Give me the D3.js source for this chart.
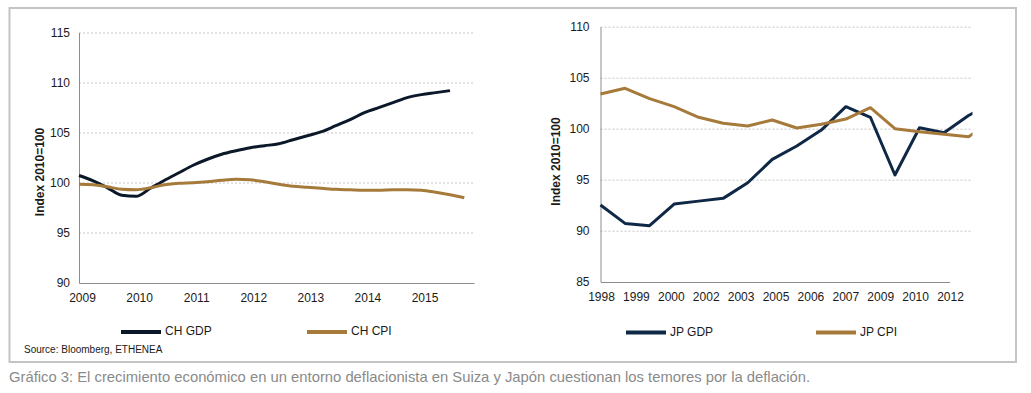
<!DOCTYPE html>
<html>
<head>
<meta charset="utf-8">
<script src="https://cdn.jsdelivr.net/npm/d3@7"></script>
<style>
  body { margin: 0; background: #fff; }
  svg { display: block; font-family: "Liberation Sans", Arial, sans-serif; }
</style>
</head>
<body>
<div id="wrapper"></div>
<script>
// Data
const chPeriods = [2009, 2009.25, 2009.5, 2009.75, 2010, 2010.25, 2010.5, 2010.75,
    2011, 2011.25, 2011.5, 2011.75, 2012, 2012.25, 2012.5, 2012.75,
    2013, 2013.25, 2013.5, 2013.75, 2014, 2014.25, 2014.5, 2014.75,
    2015, 2015.25, 2015.5, 2015.75];
const chGdp = [100.73, 100.2, 99.5, 98.75, 98.65, 99.45, 100.25, 101.0,
    101.75, 102.35, 102.85, 103.2, 103.5, 103.7, 103.9, 104.3,
    104.7, 105.1, 105.7, 106.3, 107.0, 107.5, 108.0, 108.5,
    108.8, 109.0, 109.2];
const chCpi = [99.85, 99.8, 99.6, 99.35, 99.3, 99.5, 99.8, 99.95,
    100.0, 100.1, 100.25, 100.35, 100.3, 100.1, 99.85, 99.65,
    99.55, 99.45, 99.35, 99.3, 99.25, 99.25, 99.3, 99.3,
    99.25, 99.05, 98.8, 98.5];
const chTicks = [2009, 2010, 2011, 2012, 2013, 2014, 2015];
const chYTicks = [90, 95, 100, 105, 110, 115];

const jpYears = [1998, 1999, 2000, 2001, 2002, 2003, 2004, 2005, 2006,
    2007, 2008, 2009, 2010, 2011, 2012, 2013, 2014];
const jpGdp = [92.54, 90.74, 90.51, 92.63, 92.92, 93.19, 94.72, 97.01, 98.32,
    99.88, 102.17, 101.13, 95.48, 100.11, 99.62, 101.3, 102.6];
const jpCpi = [103.41, 103.97, 102.95, 102.17, 101.13, 100.54, 100.27, 100.86, 100.08,
    100.44, 100.96, 102.07, 100.01, 99.72, 99.46, 99.23, 100.8];
const jpTicks = ["1998", "1999", "2000", "2002", "2003", "2005", "2006", "2007", "2009", "2010", "2012"];
const jpYTicks = [85, 90, 95, 100, 105, 110];

const gdpColorCH = "#0b1829";
const gdpColorJP = "#0e2846";
const cpiColor = "#a67a3b";

// Canvas
const svg = d3.select("#wrapper")
    .append("svg")
    .attr("width", 1031)
    .attr("height", 393);

// Outer frame
svg.append("rect")
    .attr("x", 9.5).attr("y", 8)
    .attr("width", 1006.5).attr("height", 354)
    .attr("fill", "none")
    .attr("stroke", "#c4c4c4")
    .attr("stroke-width", 2);

// Draw one panel
function drawPanel(cfg) {
    const g = svg.append("g")
        .attr("transform", `translate(${cfg.left},${cfg.top})`);
    const w = cfg.right - cfg.left;
    const h = cfg.bottom - cfg.top;

    const yScale = d3.scaleLinear().domain(cfg.yDomain).range([h, 0]);
    const xScale = d3.scaleLinear().domain(cfg.xDomain).range([0, w]);

    // gridlines
    g.append("g")
        .selectAll("line")
        .data(cfg.yTicks.slice(1))
        .join("line")
        .attr("x1", 0).attr("x2", w)
        .attr("y1", d => Math.round(yScale(d)) + 0.5)
        .attr("y2", d => Math.round(yScale(d)) + 0.5)
        .attr("stroke", "#c6c6c6")
        .attr("stroke-dasharray", "2,2");

    // y axis
    const yAxis = g.append("g")
        .call(d3.axisLeft(yScale).tickValues(cfg.yTicks).tickSize(0).tickPadding(cfg.yPad));
    yAxis.select(".domain").attr("stroke", "#8c8c8c").attr("stroke-width", 1);
    yAxis.selectAll("text")
        .attr("fill", "#1a1a1a")
        .style("font-size", "12px");

    // x axis
    const xAxis = g.append("g")
        .attr("transform", `translate(0,${h})`)
        .call(cfg.xAxis(w).tickSize(0).tickPadding(10));
    xAxis.select(".domain").attr("stroke", "#8c8c8c").attr("stroke-width", 1);
    xAxis.selectAll("text")
        .attr("fill", "#1a1a1a")
        .attr("dx", cfg.xLabelDx)
        .style("font-size", "12px");

    // y label
    g.append("text")
        .attr("transform", `translate(${cfg.yLabelX},${cfg.yLabelY}) rotate(-90)`)
        .attr("text-anchor", "middle")
        .attr("dominant-baseline", "middle")
        .style("font-size", "12px")
        .style("font-weight", "bold")
        .attr("fill", "#1a1a1a")
        .text("Index 2010=100");

    // lines
    const clipId = "clip-" + cfg.name;
    g.append("clipPath").attr("id", clipId)
        .append("rect")
        .attr("x", -2).attr("y", -10)
        .attr("width", w + 3).attr("height", h + 20);

    const lines = g.append("g").attr("clip-path", `url(#${clipId})`);
    cfg.series.forEach(s => {
        const line = d3.line()
            .x((d, i) => xScale(cfg.xValues[i]))
            .y(d => yScale(d))
            .curve(cfg.curve);
        lines.append("path")
            .datum(s.values)
            .attr("d", line)
            .attr("fill", "none")
            .attr("stroke", s.color)
            .attr("stroke-width", 3)
            .attr("stroke-linejoin", "round");
    });

    // legend
    cfg.series.forEach((s, i) => {
        const lx = cfg.legendX[i] - cfg.left;
        const ly = cfg.legendY - cfg.top;
        g.append("line")
            .attr("x1", lx).attr("x2", lx + 40)
            .attr("y1", ly).attr("y2", ly)
            .attr("stroke", s.color)
            .attr("stroke-width", 4);
        g.append("text")
            .attr("x", lx + 44)
            .attr("y", ly)
            .attr("dominant-baseline", "middle")
            .style("font-size", "12px")
            .attr("fill", "#1a1a1a")
            .text(s.name);
    });
}

drawPanel({
    name: "ch",
    left: 79, right: 474, top: 32.5, bottom: 283,
    yDomain: [90, 115], yTicks: chYTicks, yPad: 9,
    xDomain: [2009, 2015.92],
    xValues: chPeriods,
    xAxis: w => d3.axisBottom(d3.scaleLinear().domain([2009, 2015.92]).range([0, w]))
        .tickValues(chTicks).tickFormat(d3.format("d")),
    xLabelDx: 3,
    curve: d3.curveMonotoneX,
    yLabelX: 41 - 79, yLabelY: 172 - 32.5,
    legendX: [121, 307], legendY: 332,
    series: [
        { name: "CH GDP", values: chGdp, color: gdpColorCH },
        { name: "CH CPI", values: chCpi, color: cpiColor },
    ],
});

drawPanel({
    name: "jp",
    left: 600.5, right: 971.5, top: 26.7, bottom: 282,
    yDomain: [85, 110], yTicks: jpYTicks, yPad: 11,
    xDomain: [1998, 2013.12],
    xValues: jpYears,
    xAxis: w => d3.axisBottom(d3.scalePoint().domain(jpTicks).range([0, w * 349 / 371])),
    xLabelDx: 0.5,
    curve: d3.curveLinear,
    yLabelX: 557 - 600.5, yLabelY: 161.5 - 26.7,
    legendX: [626, 816], legendY: 332.5,
    series: [
        { name: "JP GDP", values: jpGdp, color: gdpColorJP },
        { name: "JP CPI", values: jpCpi, color: cpiColor },
    ],
});

// Source
svg.append("text")
    .attr("x", 24).attr("y", 353)
    .style("font-size", "10px")
    .attr("fill", "#1a1a1a")
    .text("Source: Bloomberg, ETHENEA");

// Caption
svg.append("text")
    .attr("x", 9).attr("y", 382)
    .style("font-size", "14.8px")
    .attr("fill", "#8a8a8a")
    .text("Gráfico 3: El crecimiento económico en un entorno deflacionista en Suiza y Japón cuestionan los temores por la deflación.");
</script>
</body>
</html>
